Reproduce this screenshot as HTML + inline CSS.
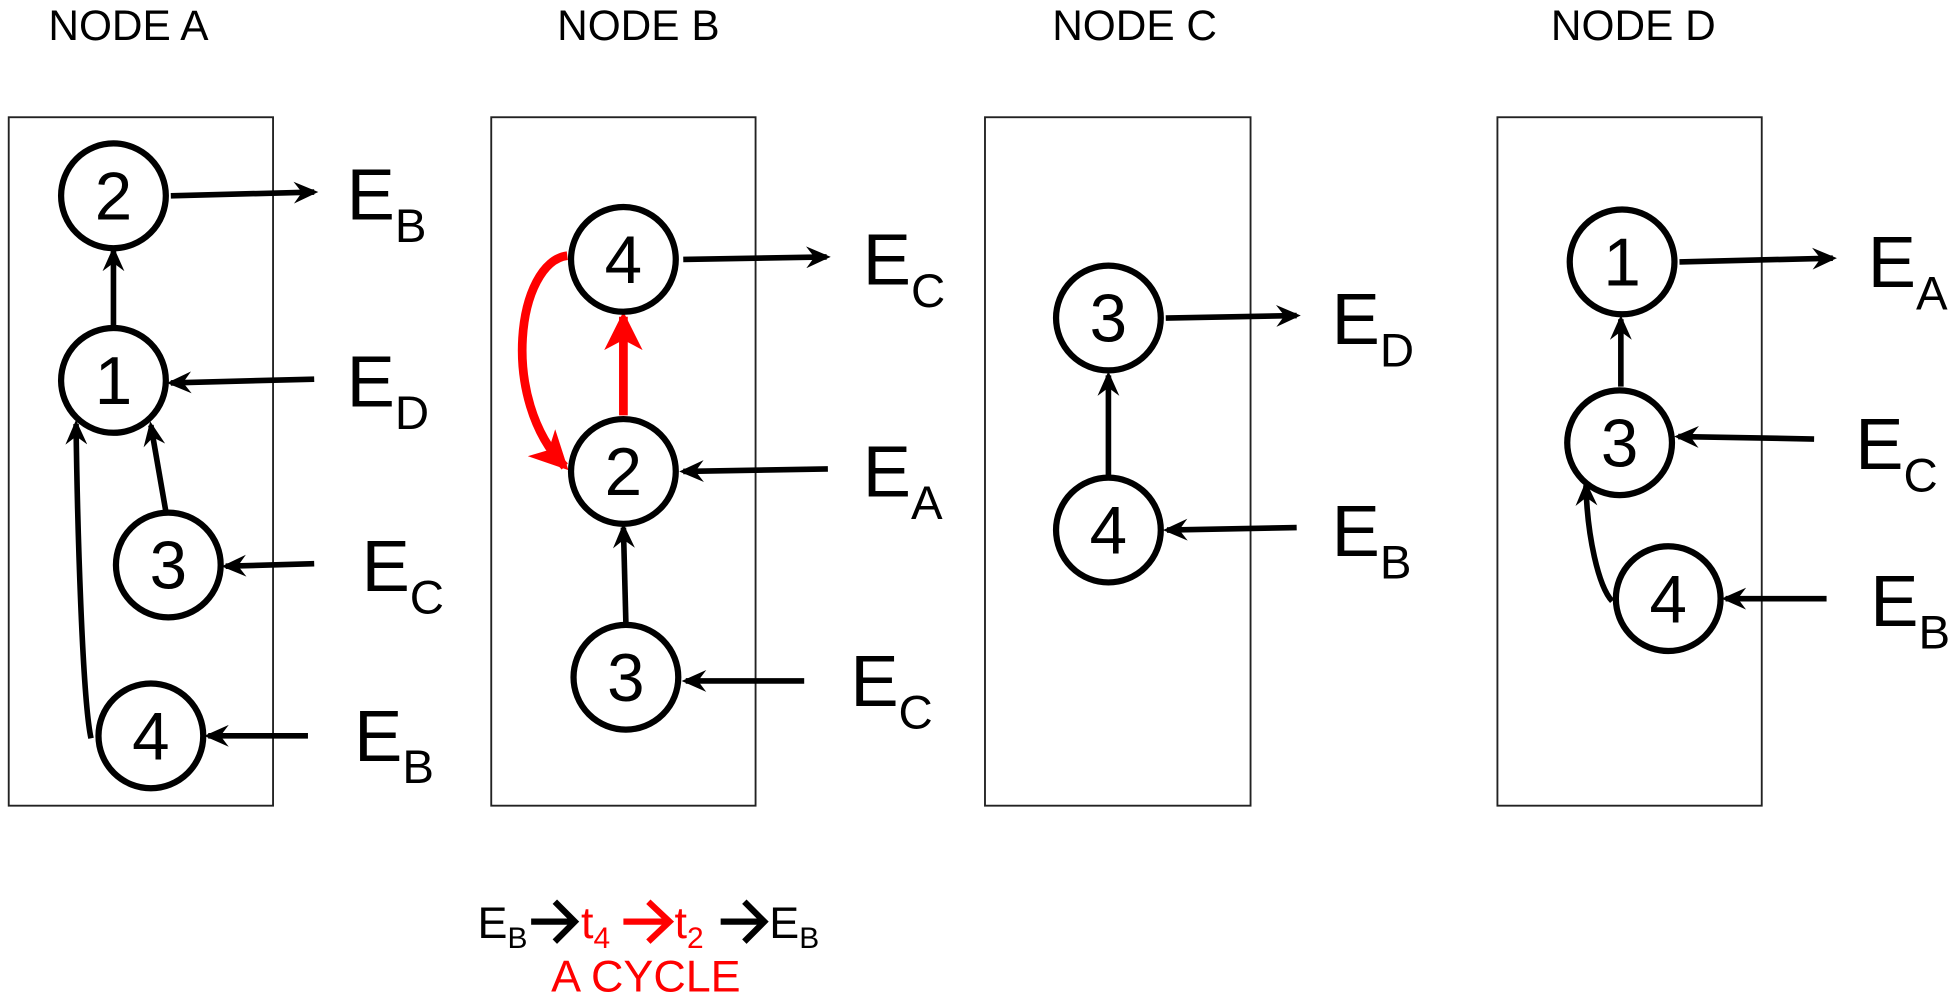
<!DOCTYPE html>
<html><head><meta charset="utf-8"><style>
html,body{margin:0;padding:0;background:#fff;}
svg{display:block;}
text{font-family:"Liberation Sans",sans-serif;}
</style></head><body>
<svg width="1955" height="999" viewBox="0 0 1568 801" preserveAspectRatio="none" xmlns="http://www.w3.org/2000/svg">
<defs>
<marker id="a" viewBox="0 0 18 16" markerWidth="4.4" markerHeight="3.9" refX="15" refY="8" orient="auto" markerUnits="strokeWidth">
<path d="M0,0 L18,8 L0,16 L6,8 Z" fill="#000"/></marker>
<marker id="r" viewBox="0 0 30 30" markerWidth="4.4" markerHeight="4.4" refX="26" refY="15" orient="auto" markerUnits="strokeWidth">
<path d="M0,0 L30,15 L0,30 L8,15 Z" fill="#f00"/></marker>
</defs>
<g font-size="34" text-anchor="middle" fill="#000">
<text x="103" y="32">NODE A</text><text x="512" y="32">NODE B</text>
<text x="910" y="32">NODE C</text><text x="1310" y="32">NODE D</text>
</g>
<g fill="none" stroke="#222" stroke-width="1.5">
<rect x="7" y="94" width="212" height="552"/><rect x="394" y="94" width="212" height="552"/>
<rect x="790" y="94" width="213" height="552"/><rect x="1201" y="94" width="212" height="552"/>
</g>
<g fill="none" stroke="#000" stroke-width="4.5" marker-end="url(#a)">
<line x1="137" y1="157" x2="252" y2="154"/>
<line x1="252" y1="304" x2="137" y2="307"/>
<line x1="252" y1="452" x2="181" y2="454"/>
<line x1="247" y1="590" x2="167" y2="590"/>
<line x1="91" y1="262" x2="91" y2="201"/>
<line x1="133" y1="410" x2="121" y2="341"/>
<path d="M73,592 C66,560 62,420 61,340"/>
<line x1="548" y1="208" x2="663" y2="206"/>
<line x1="664" y1="376" x2="548" y2="378"/>
<line x1="645" y1="546" x2="550" y2="546"/>
<line x1="502" y1="500" x2="500" y2="423"/>
<line x1="935" y1="255" x2="1040" y2="253"/>
<line x1="1040" y1="423" x2="936" y2="425"/>
<line x1="889" y1="382" x2="889" y2="301"/>
<line x1="1347" y1="210" x2="1470" y2="207"/>
<line x1="1455" y1="352" x2="1346" y2="350"/>
<line x1="1465" y1="480" x2="1384" y2="480"/>
<line x1="1300" y1="310" x2="1300" y2="256"/>
<path d="M1293,482 C1282,470 1273,430 1272,389"/>
</g>
<g fill="none" stroke="#f00" stroke-width="7" marker-end="url(#r)">
<line x1="500" y1="333" x2="500" y2="254"/>
<path d="M455,205 C415,210 400,320 453,374"/>
</g>
<g fill="#fff" stroke="#000" stroke-width="5">
<circle cx="91" cy="157" r="42"/><circle cx="91" cy="305" r="42"/>
<circle cx="135" cy="453" r="42"/><circle cx="121" cy="590" r="42"/>
<circle cx="500" cy="208" r="42"/><circle cx="500" cy="378" r="42"/><circle cx="502" cy="543" r="42"/>
<circle cx="889" cy="255" r="42"/><circle cx="889" cy="425" r="42"/>
<circle cx="1301" cy="210" r="42"/><circle cx="1299" cy="355" r="42"/><circle cx="1338" cy="480" r="42"/>
</g>
<g font-size="54" text-anchor="middle" fill="#000">
<text x="91" y="176">2</text><text x="91" y="324">1</text><text x="135" y="472">3</text><text x="121" y="609">4</text>
<text x="500" y="227">4</text><text x="500" y="397">2</text><text x="502" y="562">3</text>
<text x="889" y="274">3</text><text x="889" y="444">4</text>
<text x="1301" y="229">1</text><text x="1299" y="374">3</text><text x="1338" y="499">4</text>
</g>
<g font-size="58" fill="#000">
<text x="278" y="176">E<tspan font-size="38" dy="18">B</tspan></text>
<text x="278" y="326">E<tspan font-size="38" dy="18">D</tspan></text>
<text x="290" y="474">E<tspan font-size="38" dy="18">C</tspan></text>
<text x="284" y="610">E<tspan font-size="38" dy="18">B</tspan></text>
<text x="692" y="228">E<tspan font-size="38" dy="18">C</tspan></text>
<text x="692" y="398">E<tspan font-size="38" dy="18">A</tspan></text>
<text x="682" y="566">E<tspan font-size="38" dy="18">C</tspan></text>
<text x="1068" y="276">E<tspan font-size="38" dy="18">D</tspan></text>
<text x="1068" y="446">E<tspan font-size="38" dy="18">B</tspan></text>
<text x="1498" y="230">E<tspan font-size="38" dy="18">A</tspan></text>
<text x="1488" y="376">E<tspan font-size="38" dy="18">C</tspan></text>
<text x="1500" y="502">E<tspan font-size="38" dy="18">B</tspan></text>
</g>
<g font-size="36">
<text x="383" y="752" fill="#000">E<tspan font-size="24" dy="8">B</tspan></text>
<text x="466" y="752" fill="#f00">t<tspan font-size="24" dy="8">4</tspan></text>
<text x="541" y="752" fill="#f00">t<tspan font-size="24" dy="8">2</tspan></text>
<text x="617" y="752" fill="#000">E<tspan font-size="24" dy="8">B</tspan></text>
<text x="518" y="795" fill="#f00" text-anchor="middle">A CYCLE</text>
</g>
<g fill="none" stroke-width="5" stroke-linejoin="miter">
<path d="M426,739 H460 M445,723 L461,739 L445,755" stroke="#000"/>
<path d="M500,739 H536 M520,723 L537,739 L520,755" stroke="#f00"/>
<path d="M578,739 H612 M597,723 L613,739 L597,755" stroke="#000"/>
</g>
</svg>
</body></html>
